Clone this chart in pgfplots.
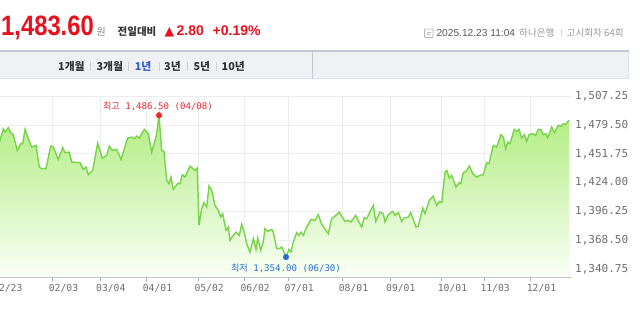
\documentclass[border=0pt]{standalone}
\usepackage{pgfplots}
\pgfplotsset{compat=1.18}
\usepackage{pgfplotstable}
\usepackage{fontspec}
\setmainfont{Liberation Sans}
\newfontfamily\mono{DejaVu Sans Mono}
\newfontfamily\kr{Noto Sans CJK KR}
\newfontfamily\djv{DejaVu Sans}
\newfontfamily\bigfnt[FakeStretch=0.85]{Liberation Sans}

\definecolor{linegreen}{RGB}{118,212,72}
\definecolor{filltop}{RGB}{178,237,130}
\definecolor{fillbot}{RGB}{250,255,246}
\definecolor{gridc}{RGB}{236,236,236}
\definecolor{axisc}{RGB}{170,170,170}
\definecolor{tickc}{RGB}{110,110,110}
\definecolor{hired}{RGB}{240,40,48}
\definecolor{loblue}{RGB}{40,110,210}
\definecolor{mainred}{RGB}{232,16,28}
\definecolor{tabbg}{RGB}{240,241,245}
\definecolor{tabtop}{RGB}{196,199,210}
\definecolor{tabbot}{RGB}{222,224,231}
\definecolor{tabblue}{RGB}{52,92,200}
\definecolor{dark}{RGB}{51,51,51}
\definecolor{midgray}{RGB}{136,136,136}
\definecolor{lgray}{RGB}{153,153,153}

\pgfplotstableread{
x y
-10 1467
-5 1470
0 1464.7
3.3 1476.0
5 1472.8
8.3 1477.0
10.7 1472.2
13.3 1470.3
17.3 1455.1
20.7 1461.6
22.7 1461.6
25 1475.4
28.3 1466.4
31.7 1458.3
36 1459.9
39.3 1438.9
41.7 1437.4
46 1437.4
50.7 1459.2
53.3 1458.3
58.3 1446.4
62.7 1457.7
65 1452.9
69.3 1453.4
71.7 1443.8
80 1443.2
83.3 1436.7
86 1438.9
88.3 1431.6
92.7 1435.8
97.7 1462.1
102.3 1447.6
106.7 1450.3
109.3 1459.2
112.3 1455.1
116.7 1456.0
121 1446.4
127.7 1467.0
131.7 1467.9
134.3 1466.4
136.7 1468.9
139.3 1467.0
144.3 1475.4
148.3 1471.2
151.7 1453.4
155 1464.7
156.7 1471.2
159 1489.0
161.7 1455.1
164 1454.1
166.7 1426.1
169 1422.9
171 1429.3
173.3 1417.4
177.7 1422.9
180 1422.9
182.3 1431.6
185 1429.3
190 1439.9
195 1435.8
197.3 1438.0
199 1382.6
201.7 1398.8
204 1404.5
206.7 1400.3
209 1420.6
211.7 1416.4
215 1401.9
218.3 1397.1
220.7 1390.6
222.7 1393.9
226 1377.8
228.3 1381.0
230 1368.1
233.3 1373.0
236 1376.1
239.3 1373.0
241.7 1383.6
245 1373.0
246.7 1364.9
250 1356.8
253.3 1369.8
256 1359.4
257.7 1370.3
260.7 1358.5
263.3 1366.5
265 1379.4
267.7 1376.8
271.7 1378.8
273.3 1376.1
276.7 1360.1
279.3 1360.1
281.7 1361.7
284 1356.8
286 1352.0
289 1359.4
291 1356.8
293.3 1366.5
296.7 1375.6
299 1373.0
301 1376.1
303.3 1373.0
306.7 1381.0
311 1388.4
315 1387.4
318.3 1393.0
321 1385.2
325 1378.8
328.3 1374.6
331.7 1389.1
335 1391.6
339.3 1395.5
342.3 1390.6
345 1386.5
348.3 1387.4
351 1385.8
355.7 1392.3
359 1385.8
361.7 1381.0
364.3 1390.1
366.7 1389.1
373.3 1401.9
375.7 1386.5
380 1395.5
383.3 1393.9
385 1386.0
388.3 1393.0
392.7 1396.1
395 1392.3
398.3 1394.9
401.7 1386.5
404 1389.7
408.3 1390.6
410.7 1394.9
413.3 1388.4
416 1381.0
418.3 1381.9
422.7 1399.3
425 1393.9
429.3 1406.8
433.3 1410.9
436.7 1401.9
439.3 1405.8
441.7 1404.5
445 1434.1
446.7 1435.8
449.3 1428.3
451.7 1430.9
456 1419.6
459.3 1423.9
460.7 1422.9
463.3 1433.5
466 1434.8
469.3 1439.9
472.7 1432.6
476.7 1429.3
480 1430.9
483.3 1431.6
486.7 1443.2
489 1442.2
493.3 1459.9
496.7 1458.3
501 1470.3
503.3 1467.9
505.7 1456.7
507.7 1463.1
510 1461.6
514.3 1475.4
516.7 1473.4
519 1475.4
521.7 1467.0
524.3 1470.3
526.7 1463.8
529 1470.3
532.3 1471.2
535.7 1469.6
538.3 1475.4
541 1475.1
543.3 1470.3
545.7 1471.2
547.7 1467.4
551.7 1477.6
554.3 1472.2
558.3 1479.2
561 1478.3
563.3 1480.9
565 1479.9
569 1484.1
}\usd

\begin{document}
\begin{tikzpicture}[x=1pt,y=1pt]
\useasboundingbox (0,0) rectangle (640,-315);
\clip (0,0) rectangle (640,-315);
\fill[white] (0,0) rectangle (640,-315);
% header
\node[anchor=base west, inner sep=0pt, text=mainred, font=\bigfnt\bfseries\fontsize{28}{30}\selectfont] at (1,-36) {1,483.60};
\node[anchor=base west, inner sep=0pt, text=midgray, font=\kr\fontsize{10}{12}\selectfont] at (96.5,-35.5) {원};
\node[anchor=base west, inner sep=0pt, text=dark, font=\kr\bfseries\fontsize{10.5}{12}\selectfont] at (117.5,-36) {전일대비};
\node[anchor=base west, inner sep=0pt, text=mainred, font=\djv\fontsize{12.5}{14}\selectfont] at (164.5,-36) {▲};
\node[anchor=base west, inner sep=0pt, text=mainred, font=\bfseries\fontsize{14}{16}\selectfont] at (176.5,-36) {2.80};
\node[anchor=base west, inner sep=0pt, text=mainred, font=\bfseries\fontsize{14}{16}\selectfont] at (212.5,-36) {+0.19\%};
% right header
\draw[lgray!70, line width=0.8pt, rounded corners=0.8pt] (424.5,-29) rectangle (433,-37.5);
\draw[lgray!70, line width=0.7pt] (426.5,-32) -- (431,-32) (426.5,-34.5) -- (429.5,-34.5);
\node[anchor=base west, inner sep=0pt, text={rgb,255:red,90;green,90;blue,90}, font=\fontsize{10.2}{12}\selectfont] at (436.3,-36.7) {2025.12.23 11:04};
\node[anchor=base west, inner sep=0pt, text=lgray, font=\kr\fontsize{9.6}{11}\selectfont] at (519,-36.7) {하나은행};
\draw[lgray!40, line width=0.8pt] (561,-29) -- (561,-37.5);
\node[anchor=base west, inner sep=0pt, text=lgray, font=\kr\fontsize{9.6}{11}\selectfont] at (566.5,-36.7) {고시회차 64회};
% tab bar
\fill[tabbg] (-5,-51) rectangle (628,-79);
\draw[tabbot, line width=1pt] (-5,-79) -- (628,-79) -- (628,-51);
\draw[tabtop, line width=1.5pt] (-5,-51) -- (628.5,-51);
\draw[tabtop, line width=1pt] (312,-51) -- (312,-79);
\begin{scope}[every node/.style={anchor=base west, inner sep=0pt, text=dark, font=\kr\bfseries\fontsize{10.8}{12}\selectfont}]
\node at (58,-71) {1개월};
\node at (96.3,-71) {3개월};
\node[text=tabblue] at (134.7,-71) {1년};
\node at (164,-71) {3년};
\node at (193.3,-71) {5년};
\node at (221.5,-71) {10년};
\end{scope}
\foreach \sx in {90,128.3,159.3,187.3,216} {\draw[black!18, line width=0.8pt] (\sx,-62) -- (\sx,-71);}
% chart
\begin{axis}[
 at={(-10,-268)}, anchor=south west, scale only axis,
 width=581pt, height=181pt,
 xmin=-10, xmax=571, ymin=1332.37, ymax=1507.25,
 axis x line*=bottom, axis y line*=right,
 x axis line style={draw=axisc, line width=1.2pt, -},
 y axis line style={draw=none, -},
 xtick={-3,52.7,100,146.7,198.3,244.3,288.3,342.7,390,441.7,484.3,530.7},
 xticklabels={12/23,02/03,03/04,04/01,05/02,06/02,07/01,08/01,09/01,10/01,11/03,12/01},
 ytick={1340.75,1368.5,1396.25,1424,1451.75,1479.5,1507.25},
 yticklabels={{1,340.75},{1,368.50},{1,396.25},{1,424.00},{1,451.75},{1,479.50},{1,507.25}},
 grid=major, major grid style={draw=gridc, line width=0.9pt},
 tick align=outside,
 major tick length=4pt,
 xtick style={draw=axisc, line width=0.8pt},
 ytick style={draw=none},
 xticklabel style={font=\mono\fontsize{9.7}{11}\selectfont, text=tickc, anchor=north west, xshift=-4pt, inner sep=0pt, yshift=-3pt},
 yticklabel style={font=\mono\fontsize{11}{13}\selectfont, text=tickc, anchor=west, inner sep=0pt, xshift=0pt},
]
\addplot[draw=none, top color=filltop, bottom color=fillbot, forget plot] table[x=x,y=y]{\usd} -- (569,1332.37) -- (-10,1332.37) -- cycle;
\addplot[linegreen, line width=1.4pt] table[x=x,y=y]{\usd};
\addplot[only marks, mark=*, mark size=2.8pt, color=hired] coordinates {(159,1489)};
\addplot[only marks, mark=*, mark size=2.8pt, color=loblue] coordinates {(286,1352)};
\node[anchor=south, inner sep=0pt, text=hired, font=\mono\fontsize{9.1}{11}\selectfont, yshift=4.3pt, xshift=-1pt] at (axis cs:159,1489) {{\kr 최고} 1,486.50 (04/08)};
\node[anchor=north, inner sep=0pt, text=loblue, font=\mono\fontsize{9.1}{11}\selectfont, yshift=-6.4pt] at (axis cs:286,1352) {{\kr 최저} 1,354.00 (06/30)};
\end{axis}
\end{tikzpicture}
\end{document}
